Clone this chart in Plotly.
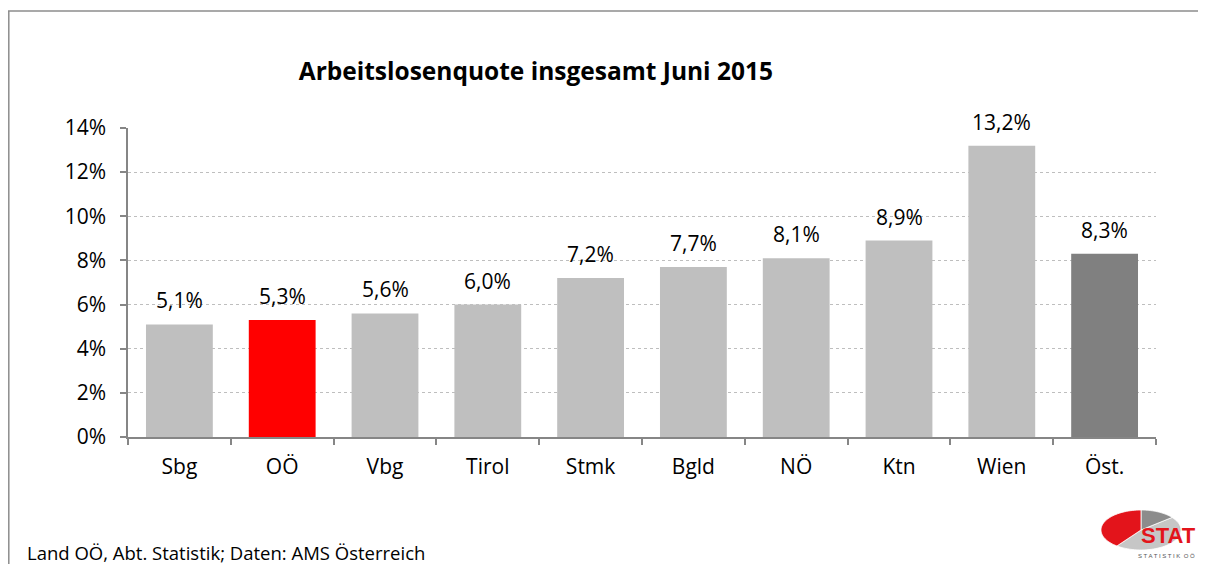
import math
import plotly.graph_objects as go

categories = ["Sbg", "OÖ", "Vbg", "Tirol", "Stmk", "Bgld", "NÖ", "Ktn", "Wien", "Öst."]
values = [5.1, 5.3, 5.6, 6.0, 7.2, 7.7, 8.1, 8.9, 13.2, 8.3]
bar_colors = ["#BFBFBF", "#FF0000", "#BFBFBF", "#BFBFBF", "#BFBFBF",
              "#BFBFBF", "#BFBFBF", "#BFBFBF", "#BFBFBF", "#808080"]
y_ticks = [0, 2, 4, 6, 8, 10, 12, 14]
title = "Arbeitslosenquote insgesamt Juni 2015"
footer = "Land OÖ, Abt. Statistik; Daten: AMS Österreich"

# page body has an 8px margin: figure drawn at screen offset (8, 8);
# keep the figure small enough that no scrollbars appear
OFF = 8
W, H = 1206 - 2 * OFF, 572 - 2 * OFF
ML, MT = 128 - OFF, 128 - OFF
MR = W - (1156 - OFF)
MB = H - (437 - OFF)
PW, PH = W - ML - MR, H - MT - MB
FONT = "'Open Sans', sans-serif"


def px(sx):
    return (sx - OFF - ML) / PW


def py(sy):
    return (H - MB - (sy - OFF)) / PH


fig = go.Figure()
fig.add_trace(go.Bar(
    x=categories, y=values, marker=dict(color=bar_colors, line=dict(width=0)),
    hoverinfo="skip", showlegend=False,
))

for c, v in zip(categories, values):
    fig.add_annotation(
        x=c, y=v, xref="x", yref="y", text=f"{v:.1f}%".replace(".", ","),
        showarrow=False, yanchor="bottom", yshift=8,
        font=dict(family=FONT, size=21, color="#000000"),
    )

# footer
fig.add_annotation(
    x=px(25), y=py(552), xref="paper", yref="paper", text=footer,
    showarrow=False, xanchor="left", yanchor="middle",
    font=dict(family=FONT, size=18.5, color="#000000"),
)

shapes = []
# outer border (top and left edges visible)
shapes.append(dict(type="line", xref="paper", yref="paper",
                   x0=px(OFF), x1=px(OFF + W), y0=py(11), y1=py(11),
                   line=dict(color="#8C8C8C", width=1.5), layer="below"))
shapes.append(dict(type="line", xref="paper", yref="paper",
                   x0=px(OFF + 0.8), x1=px(OFF + 0.8), y0=py(11), y1=py(OFF + H),
                   line=dict(color="#8C8C8C", width=1.5), layer="below"))

# logo (decorative)
cx, cy, rx, ry = 1141, 530, 40, 20


def wedge(a0, a1, n=48):
    pts = [(cx, cy)]
    for i in range(n + 1):
        a = math.radians(a0 + (a1 - a0) * i / n)
        pts.append((cx + rx * math.cos(a), cy - ry * math.sin(a)))
    return "M " + " L ".join(f"{px(x):.5f},{py(y):.5f}" for x, y in pts) + " Z"


shapes.append(dict(type="path", xref="paper", yref="paper", path=wedge(-127, 39),
                   fillcolor="#C6C6C6", line=dict(color="#FFFFFF", width=0.8)))
shapes.append(dict(type="path", xref="paper", yref="paper", path=wedge(39, 90),
                   fillcolor="#8C8C8C", line=dict(color="#FFFFFF", width=0.8)))
shapes.append(dict(type="path", xref="paper", yref="paper", path=wedge(90, 233),
                   fillcolor="#E3141B", line=dict(color="#FFFFFF", width=0.8)))

fig.add_annotation(x=px(1168), y=py(535), xref="paper", yref="paper", text="<b>STAT</b>",
                   showarrow=False, xanchor="center", yanchor="middle",
                   font=dict(family="'Liberation Sans', Arial, sans-serif", size=22, color="#E3141B"))
fig.add_annotation(x=px(1166), y=py(556), xref="paper", yref="paper",
                   text="S T A T I S T I K  O Ö",
                   showarrow=False, xanchor="center", yanchor="middle",
                   font=dict(family="'Liberation Sans', Arial, sans-serif", size=6, color="#555555"))

fig.update_layout(
    width=W, height=H,
    margin=dict(l=ML, r=MR, t=MT, b=MB, pad=0),
    paper_bgcolor="#FFFFFF", plot_bgcolor="#FFFFFF",
    separators=",.",
    bargap=0.35,
    shapes=shapes,
    title=dict(text=f"<b>{title}</b>", x=px(584), xanchor="center",
               y=1 - (71 - OFF) / H, yanchor="middle",
               font=dict(family=FONT, size=24.5, color="#000000")),
    font=dict(family=FONT, color="#000000"),
    xaxis=dict(
        type="category", showline=True, linecolor="#868686", linewidth=1.5,
        ticks="outside", ticklen=6, tickcolor="#868686", tickwidth=1.5,
        tickson="boundaries", showgrid=False,
        tickfont=dict(family=FONT, size=21, color="#000000"),
        ticklabelstandoff=10,
    ),
    yaxis=dict(
        range=[0, 14], tickvals=y_ticks, ticktext=[f"{t}%" for t in y_ticks],
        showline=True, linecolor="#868686", linewidth=1.5,
        ticks="outside", ticklen=6, tickcolor="#868686", tickwidth=1.5,
        showgrid=True, gridcolor="#BEBEBE", gridwidth=1, griddash="dot",
        zeroline=False,
        tickfont=dict(family=FONT, size=21, color="#000000"),
        ticklabelstandoff=10,
    ),
)

fig.write_html("out.html")
